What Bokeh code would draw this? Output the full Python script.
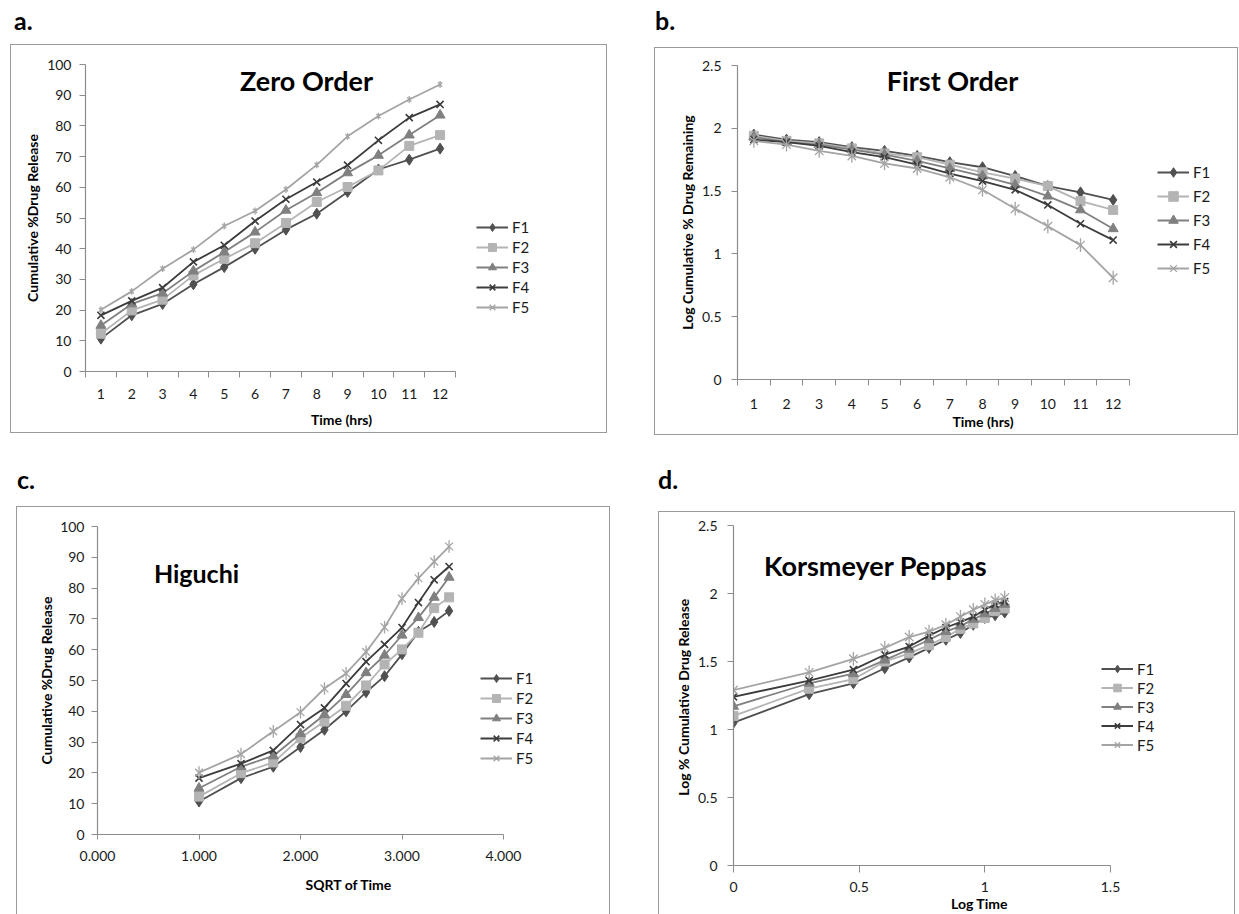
from bokeh.plotting import figure
from bokeh.models import (Range1d, FixedTicker, NumeralTickFormatter, Label,
                          Legend, LegendItem, Div, Spacer)
from bokeh.layouts import column, row
from bokeh.embed import file_html
from bokeh.resources import INLINE

# ---------------- data ----------------
series_names = ["F1", "F2", "F3", "F4", "F5"]
time_hrs = [1, 2, 3, 4, 5, 6, 7, 8, 9, 10, 11, 12]
sqrt_time = [1.000, 1.414, 1.732, 2.000, 2.236, 2.449, 2.646, 2.828, 3.000, 3.162, 3.317, 3.464]
log_time = [0.000, 0.301, 0.477, 0.602, 0.699, 0.778, 0.845, 0.903, 0.954, 1.000, 1.041, 1.079]

# cumulative % drug release (zero order / Higuchi)
release_F1 = [10.7, 18.3, 22.0, 28.4, 34.0, 40.0, 46.2, 51.4, 58.5, 65.8, 69.0, 72.6]
release_F2 = [12.3, 19.9, 23.4, 31.3, 36.7, 41.8, 48.4, 55.2, 60.1, 65.5, 73.5, 77.0]
release_F3 = [15.0, 22.0, 25.5, 32.7, 38.9, 45.4, 52.5, 58.2, 64.7, 70.4, 77.0, 83.5]
release_F4 = [18.3, 23.0, 27.3, 35.7, 41.1, 49.0, 56.1, 61.7, 67.2, 75.3, 82.7, 87.0]
release_F5 = [20.1, 26.1, 33.5, 39.7, 47.4, 52.3, 59.3, 67.3, 76.6, 83.2, 88.6, 93.5]

# log cumulative % drug remaining (first order)
log_remaining_F1 = [1.95, 1.91, 1.89, 1.85, 1.82, 1.78, 1.73, 1.69, 1.62, 1.54, 1.49, 1.43]
log_remaining_F2 = [1.94, 1.90, 1.88, 1.84, 1.80, 1.77, 1.71, 1.65, 1.60, 1.54, 1.42, 1.35]
log_remaining_F3 = [1.93, 1.89, 1.87, 1.83, 1.79, 1.74, 1.68, 1.62, 1.55, 1.46, 1.35, 1.20]
log_remaining_F4 = [1.91, 1.89, 1.86, 1.81, 1.77, 1.71, 1.64, 1.58, 1.51, 1.39, 1.24, 1.11]
log_remaining_F5 = [1.90, 1.87, 1.82, 1.78, 1.72, 1.68, 1.61, 1.51, 1.36, 1.22, 1.07, 0.81]

# log % cumulative drug release (Korsmeyer Peppas)
log_release_F1 = [1.05, 1.26, 1.34, 1.45, 1.53, 1.60, 1.66, 1.71, 1.77, 1.82, 1.84, 1.86]
log_release_F2 = [1.10, 1.30, 1.37, 1.50, 1.56, 1.62, 1.68, 1.74, 1.78, 1.82, 1.87, 1.89]
log_release_F3 = [1.17, 1.34, 1.41, 1.51, 1.59, 1.66, 1.72, 1.76, 1.81, 1.85, 1.89, 1.92]
log_release_F4 = [1.24, 1.36, 1.44, 1.55, 1.61, 1.69, 1.75, 1.79, 1.83, 1.88, 1.92, 1.94]
log_release_F5 = [1.29, 1.42, 1.52, 1.60, 1.68, 1.72, 1.77, 1.83, 1.88, 1.92, 1.95, 1.97]

release_ticks = [0, 10, 20, 30, 40, 50, 60, 70, 80, 90, 100]
log_ticks = [0, 0.5, 1, 1.5, 2, 2.5]
sqrt_ticks = [0, 1, 2, 3, 4]
logtime_ticks = [0, 0.5, 1, 1.5]

release = [release_F1, release_F2, release_F3, release_F4, release_F5]
log_remaining = [log_remaining_F1, log_remaining_F2, log_remaining_F3, log_remaining_F4, log_remaining_F5]
log_release = [log_release_F1, log_release_F2, log_release_F3, log_release_F4, log_release_F5]

# ---------------- style ----------------
FONT = "Lato"
AXIS = "#8c8c8c"
TXT = "#1a1a1a"
BOX = "#9a9a9a"
COLORS = ["#505050", "#b4b4b4", "#808080", "#3c3c3c", "#a4a4a4"]
MARKERS = ["diamond", "square", "triangle", "x"]
SIZES = [11, 9, 10, 10]


def style_axis(ax, label, tick_out, label_standoff, axis_label_standoff, bounds=None):
    ax.axis_line_color = AXIS
    ax.axis_line_width = 1.2
    ax.major_tick_line_color = AXIS
    ax.minor_tick_line_color = AXIS
    ax.major_tick_out = tick_out
    ax.major_tick_in = 0
    ax.minor_tick_in = 0
    ax.minor_tick_out = 0
    ax.major_label_text_font = FONT
    ax.major_label_text_font_size = "14px"
    ax.major_label_text_color = TXT
    ax.major_label_standoff = label_standoff
    ax.axis_label = label
    ax.axis_label_text_font = FONT
    ax.axis_label_text_font_style = "bold"
    ax.axis_label_text_font_size = "14px"
    ax.axis_label_text_color = "#000000"
    ax.axis_label_standoff = axis_label_standoff
    if bounds is not None:
        ax.bounds = bounds


def make_panel(cfg, xs, ys_list, f5_size, bottom_edge=True):
    shadow = f"inset 1px 1px 0 0 {BOX}, inset -1px {-1 if bottom_edge else 0}px 0 0 {BOX}"
    # the frame is widened to the right (to hold the legend); the data area
    # [xr0, xr1] keeps its pixel width `data_w`, the x axis is bounded to it
    xr0, xr1 = cfg["xr"]
    fw = cfg["W"] - cfg["mb"][0] - cfg["mb"][1]
    x_end = xr0 + (xr1 - xr0) * fw / cfg["data_w"]
    p = figure(width=cfg["W"], height=cfg["H"], output_backend="svg", toolbar_location=None,
               x_range=Range1d(xr0, x_end), y_range=Range1d(*cfg["yr"]),
               min_border_left=cfg["mb"][0], min_border_right=cfg["mb"][1],
               min_border_top=cfg["mb"][2], min_border_bottom=cfg["mb"][3],
               styles={"box-shadow": shadow})
    p.frame_align = False
    p.outline_line_color = None
    p.xgrid.visible = False
    p.ygrid.visible = False
    p.background_fill_color = None
    p.border_fill_color = None

    items = []
    for i, name in enumerate(series_names):
        c = COLORS[i]
        rs = [p.line(xs, ys_list[i], line_color=c, line_width=1.8)]
        if i < 4:
            rs.append(p.scatter(xs, ys_list[i], marker=MARKERS[i], size=SIZES[i],
                                fill_color=c, line_color=c,
                                line_width=1.6 if MARKERS[i] == "x" else 1))
        else:
            rs.append(p.scatter(xs, ys_list[i], marker="x", size=f5_size, line_color=c, line_width=1.3))
            rs.append(p.scatter(xs, ys_list[i], marker="dash", size=f5_size * 1.15, angle=1.5708,
                                line_color=c, line_width=1.3))
        items.append(LegendItem(label=name, renderers=rs))

    leg = Legend(items=items, location=cfg["leg_loc"], orientation="vertical",
                 glyph_width=32, glyph_height=cfg["leg_h"], label_height=cfg["leg_h"],
                 label_standoff=4, spacing=0, padding=0, margin=0,
                 label_text_font=FONT, label_text_font_size="15px", label_text_color=TXT,
                 border_line_color=None, background_fill_alpha=0)
    p.add_layout(leg)

    tx, ty = cfg["title_xy"]
    p.add_layout(Label(x=tx, y=ty, x_units="screen", y_units="screen", text=cfg["title"],
                       text_font=FONT, text_font_style="bold", text_font_size=cfg["title_size"],
                       text_align="center", text_baseline="middle", text_color="#000000"))
    return p


def letter_div(letter, w, h, pad_left, pad_top):
    html = (f'<div style="font-family:Lato;font-weight:bold;font-size:25px;line-height:25px;'
            f'padding-left:{pad_left}px;padding-top:{pad_top}px;color:#000;">{letter}</div>')
    return Div(text=html, width=w, height=h, margin=(0, 0, 0, 0))


boundaries = [t - 0.5 for t in time_hrs] + [time_hrs[-1] + 0.5]

# ---- a. Zero order ----  (box 10..607 x 44..433)
cfg_a = dict(W=597, H=389, mb=(75, 10, 20, 62), xr=(0.5, 12.5), data_w=370, yr=(0, 100),
             leg_loc=(391, 54), leg_h=20,
             title="Zero Order", title_size="27px", title_xy=(221, 291))
pa = make_panel(cfg_a, time_hrs, release, 6)
style_axis(pa.xaxis[0], "Time (hrs)", 0, 11, 9, bounds=(0.5, 12.5))
style_axis(pa.yaxis[0], "Cumulative %Drug Release", 6, 8, 3)
pa.xaxis[0].ticker = FixedTicker(ticks=time_hrs, minor_ticks=boundaries)
pa.xaxis[0].minor_tick_out = 6
pa.yaxis[0].ticker = FixedTicker(ticks=release_ticks, minor_ticks=[])

# ---- b. First order ----  (box 654..1238 x 47..435)
cfg_b = dict(W=584, H=388, mb=(83, 10, 18, 56), xr=(0.5, 12.5), data_w=392, yr=(0, 2.5),
             leg_loc=(420, 99), leg_h=24,
             title="First Order", title_size="27px", title_xy=(215, 299))
pb = make_panel(cfg_b, time_hrs, log_remaining, 12)
style_axis(pb.xaxis[0], "Time (hrs)", 0, 13, 1, bounds=(0.5, 12.5))
style_axis(pb.yaxis[0], "Log Cumulative % Drug Remaining", 6, 10, 3)
pb.xaxis[0].ticker = FixedTicker(ticks=time_hrs, minor_ticks=boundaries)
pb.xaxis[0].minor_tick_out = 6
pb.yaxis[0].ticker = FixedTicker(ticks=log_ticks, minor_ticks=[])
pb.yaxis[0].formatter = NumeralTickFormatter(format="0.[0]")

# ---- c. Higuchi ----  (box 16..610 x 506..)
cfg_c = dict(W=594, H=408, mb=(81, 10, 20, 80), xr=(0, 4), data_w=406, yr=(0, 100),
             leg_loc=(383, 66), leg_h=20,
             title="Higuchi", title_size="25px", title_xy=(99, 262))
pc = make_panel(cfg_c, sqrt_time, release, 11, bottom_edge=False)
style_axis(pc.xaxis[0], "SQRT of Time", 5, 11, 12, bounds=(0, 4))
style_axis(pc.yaxis[0], "Cumulative %Drug Release", 6, 7, 2)
pc.xaxis[0].ticker = FixedTicker(ticks=sqrt_ticks, minor_ticks=[])
pc.xaxis[0].formatter = NumeralTickFormatter(format="0.000")
pc.yaxis[0].ticker = FixedTicker(ticks=release_ticks, minor_ticks=[])

# ---- d. Korsmeyer Peppas ----  (box 658..1235 x 511..)
cfg_d = dict(W=577, H=403, mb=(75, 10, 14, 47), xr=(0, 1.5), data_w=377, yr=(0, 2.5),
             leg_loc=(368, 111), leg_h=19,
             title="Korsmeyer Peppas", title_size="27px", title_xy=(142, 300))
pd_ = make_panel(cfg_d, log_time, log_release, 12, bottom_edge=False)
style_axis(pd_.xaxis[0], "Log Time", 7, 9, 0, bounds=(0, 1.5))
style_axis(pd_.yaxis[0], "Log % Cumulative  Drug Release", 6, 10, 3)
pd_.xaxis[0].ticker = FixedTicker(ticks=logtime_ticks, minor_ticks=[])
pd_.xaxis[0].formatter = NumeralTickFormatter(format="0.[0]")
pd_.yaxis[0].ticker = FixedTicker(ticks=log_ticks, minor_ticks=[])
pd_.yaxis[0].formatter = NumeralTickFormatter(format="0.[0]")

col_a = column(letter_div("a.", 597, 44, 4, 8), pa, spacing=0)
col_b = column(letter_div("b.", 584, 47, 1, 8), pb, spacing=0)
col_c = column(letter_div("c.", 594, 71, 1, 32), pc, spacing=0)
col_d = column(letter_div("d.", 577, 76, 0, 32), pd_, spacing=0)

row1 = row(Spacer(width=10, height=10), col_a, Spacer(width=47, height=10), col_b, spacing=0)
row2 = row(Spacer(width=16, height=10), col_c, Spacer(width=48, height=10), col_d, spacing=0)
layout = column(row1, row2, spacing=0)
open("out.html", "w").write(file_html(layout, INLINE))
